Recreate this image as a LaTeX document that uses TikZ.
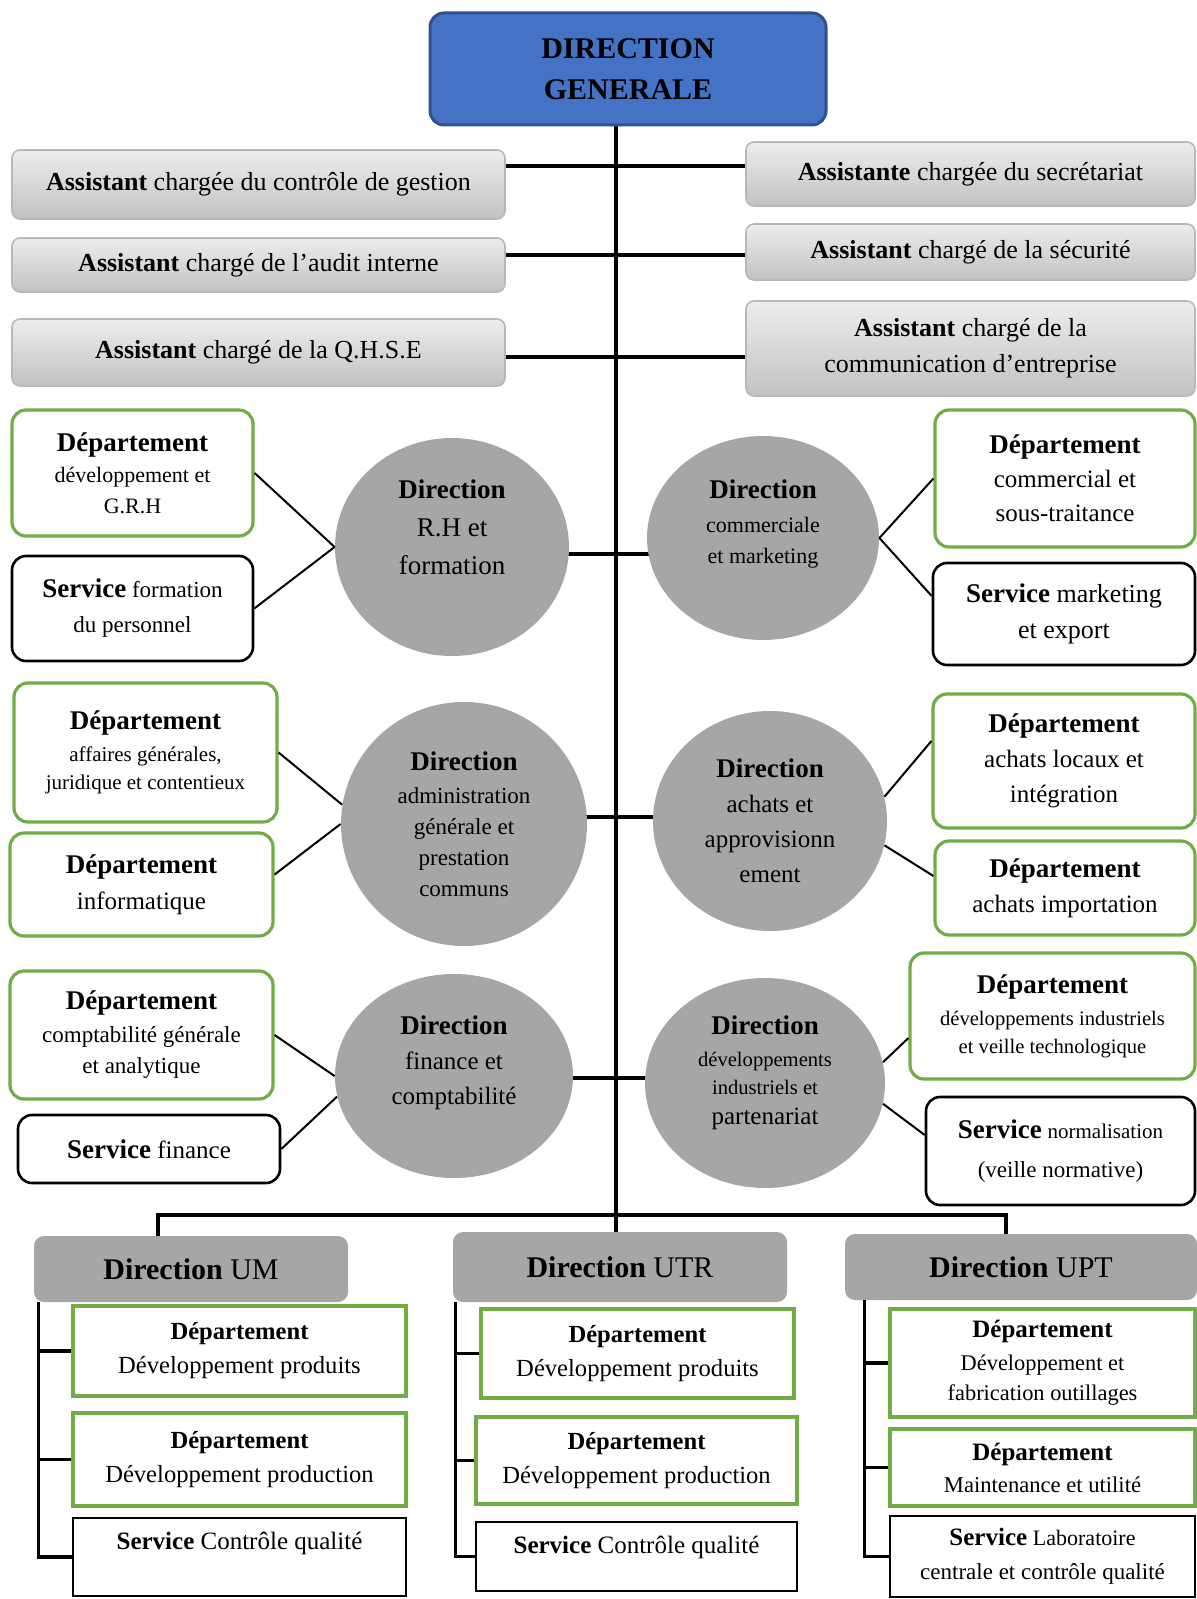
\documentclass[tikz,border=0pt]{standalone}
\usepackage{fontspec}
\setmainfont{Liberation Serif}
\usepackage{tikz}
\usetikzlibrary{shapes.geometric, backgrounds}
\definecolor{dgblue}{RGB}{68,114,196}
\definecolor{dgblueline}{RGB}{47,82,143}
\definecolor{deptgreen}{RGB}{112,173,71}
\definecolor{dirgray}{RGB}{166,166,166}
\newcommand\fs[2]{\fontsize{#1}{#2}\selectfont}
% box from its two corners (picture px): style, name, x1, y1, x2, y2, text
\newcommand\orgnode[7]{%
  \pgfmathsetmacro\bw{(#5-#3)/2}\pgfmathsetmacro\bh{(#6-#4)/2}%
  \node[#1, minimum width=\bw pt, minimum height=\bh pt] (#2) at ({(#3+#5)/2},{(#4+#6)/2}) {#7};}
% direction ellipse: style, name, cx, cy, rx, ry, text
\newcommand\dirnode[7]{%
  \node[dirc, #1, minimum width=#5pt, minimum height=#6pt] (#2) at (#3,#4) {#7};}
\tikzset{
  dgbox/.style={draw=dgblueline, fill=dgblue, rounded corners=7pt, line width=1.5pt, align=center, font={\fs{15}{20.5}\bfseries}},
  asst/.style={draw=black!28, top color=black!7, bottom color=black!24, rounded corners=4pt, line width=0.8pt, align=center, font={\fs{13}{18}}},
  dirc/.style={ellipse, fill=dirgray, align=center, inner sep=0pt},
  dept/.style={draw=deptgreen, line width=1.6pt, rounded corners=7pt, align=center, inner sep=1pt},
  serv/.style={draw=black, line width=1.3pt, rounded corners=7pt, align=center, inner sep=1pt},
  unit/.style={fill=dirgray, rounded corners=5pt, align=center, font={\fs{15}{18}}},
  udept/.style={draw=deptgreen, line width=1.6pt, align=center, inner sep=1pt},
  userv/.style={draw=black, line width=1.2pt, align=center, inner sep=1pt},
  trunk/.style={line width=2pt},
  col/.style={line width=1.6pt},
  link/.style={line width=1pt}
}
\newcommand\bigb[1]{{\fs{13.5}{17}\textbf{#1}}}
\begin{document}
\begin{tikzpicture}[x=0.5pt, y=-0.5pt]
  \useasboundingbox (0,0) rectangle (1197,1599);
  % ---- direction generale + assistants ----
  \orgnode{dgbox}{dg}{430}{13}{826}{125}{DIRECTION\\GENERALE}
  \orgnode{asst}{a1}{12}{150}{505}{219}{\textbf{Assistant} chargée du contrôle de gestion}
  \orgnode{asst}{a2}{12}{238}{505}{292}{\textbf{Assistant} chargé de l’audit interne}
  \orgnode{asst}{a3}{12}{319}{505}{386}{\textbf{Assistant} chargé de la Q.H.S.E}
  \orgnode{asst}{b1}{746}{142}{1195}{206}{\textbf{Assistante} chargée du secrétariat}
  \orgnode{asst}{b2}{746}{224}{1195}{280}{\textbf{Assistant} chargé de la sécurité}
  \orgnode{asst}{b3}{746}{301}{1195}{396}{\textbf{Assistant} chargé de la\\communication d’entreprise}
  % ---- row 1 ----
  \orgnode{dept, font=\fs{11}{15.5}}{grh}{12}{410}{253}{536}{\bigb{Département}\\développement et\\G.R.H}
  \orgnode{serv, font=\fs{11.5}{17.5}}{sfp}{12}{556}{253}{661}{\bigb{Service} formation\\du personnel}
  \dirnode{font=\fs{13.5}{19}}{drh}{452}{547}{117}{109}{\textbf{Direction}\\R.H et\\formation\\[1pt]\mbox{}}
  \dirnode{font=\fs{11}{15.5}}{dcm}{763}{538}{116}{102}{\bigb{Direction}\\[1.5pt]commerciale\\et marketing\\[0.5pt]\mbox{}}
  \orgnode{dept, font=\fs{12.5}{17}}{dcst}{935}{410}{1195}{547}{\bigb{Département}\\commercial et\\sous-traitance}
  \orgnode{serv, font=\fs{13}{18}}{smx}{933}{563}{1195}{665}{\bigb{Service} marketing\\et export}
  % ---- row 2 ----
  \orgnode{dept, font=\fs{10.5}{14}}{dag}{14}{683}{277}{822}{\bigb{Département}\\[2pt]affaires générales,\\juridique et contentieux}
  \orgnode{dept, font=\fs{12.5}{18}}{dinf}{10}{833}{273}{936}{\bigb{Département}\\informatique}
  \dirnode{font=\fs{11.5}{15.5}}{adm}{464}{824}{123}{122}{\bigb{Direction}\\[1pt]administration\\générale et\\prestation\\communs}
  \dirnode{font=\fs{12.5}{17.5}}{ach}{770}{821}{117}{110}{\bigb{Direction}\\achats et\\approvisionn\\ement}
  \orgnode{dept, font=\fs{12.5}{17.5}}{dal}{933}{694}{1195}{828}{\bigb{Département}\\achats locaux et\\intégration}
  \orgnode{dept, font=\fs{12.5}{17.5}}{dai}{935}{841}{1195}{935}{\bigb{Département}\\achats importation}
  % ---- row 3 ----
  \orgnode{dept, font=\fs{11.5}{15.5}}{dcg}{10}{971}{273}{1099}{\bigb{Département}\\[1pt]comptabilité générale\\et analytique}
  \orgnode{serv, font=\fs{12.5}{17}}{sfi}{18}{1115}{280}{1183}{\bigb{Service} finance}
  \dirnode{font=\fs{12.5}{17.5}}{fin}{454}{1076}{119}{102}{\bigb{Direction}\\finance et\\comptabilité\\[-1.5pt]\mbox{}}
  \dirnode{font=\fs{10.3}{14}}{dvp}{765}{1083}{120}{105}{\bigb{Direction}\\[2pt]développements\\industriels et\\[1pt]{\fs{12.5}{15}partenariat}\\[-1pt]\mbox{}}
  \orgnode{dept, font=\fs{10.3}{14}}{dvi}{910}{953}{1195}{1079}{\bigb{Département}\\[2pt]développements industriels\\et veille technologique}
  \orgnode{serv, font=\fs{11.5}{19.5}}{snr}{926}{1097}{1195}{1205}{\bigb{Service} {\fs{10.5}{19.5}normalisation}\\(veille normative)}
  % ---- units ----
  \orgnode{unit}{um}{34}{1236}{348}{1302}{\textbf{Direction} UM}
  \orgnode{unit}{utr}{453}{1232}{787}{1302}{\textbf{Direction} UTR}
  \orgnode{unit}{upt}{845}{1234}{1197}{1300}{\textbf{Direction} UPT}
  \orgnode{udept, font=\fs{12.3}{17}}{um1}{73}{1306}{406}{1396}{\textbf{Département}\\Développement produits}
  \orgnode{udept, font=\fs{12.3}{17}}{um2}{73}{1413}{406}{1506}{\textbf{Département}\\Développement production}
  \orgnode{userv, font=\fs{12.5}{16}}{um3}{73}{1518}{406}{1596}{\textbf{Service} Contrôle qualité\\\mbox{}}
  \orgnode{udept, font=\fs{12.3}{17}}{utr1}{481}{1309}{794}{1398}{\textbf{Département}\\Développement produits}
  \orgnode{udept, font=\fs{12.3}{17}}{utr2}{476}{1417}{797}{1504}{\textbf{Département}\\Développement production}
  \orgnode{userv, font=\fs{12.5}{16}}{utr3}{476}{1522}{797}{1591}{\textbf{Service} Contrôle qualité\\[-4pt]\mbox{}}
  \orgnode{udept, font=\fs{11.2}{15.3}}{upt1}{890}{1309}{1195}{1417}{{\fs{12.5}{16}\textbf{Département}}\\[1pt]Développement et\\fabrication outillages}
  \orgnode{udept, font=\fs{11.3}{16}}{upt2}{890}{1429}{1195}{1506}{{\fs{12.5}{16}\textbf{Département}}\\Maintenance et utilité}
  \orgnode{userv, font=\fs{11.5}{17}}{upt3}{890}{1516}{1195}{1597}{{\fs{12.5}{17}\textbf{Service}} {\fs{11}{17}Laboratoire}\\centrale et contrôle qualité}
  % ---- connectors ----
  \coordinate (h1) at (616,166); \coordinate (h2) at (616,255); \coordinate (h3) at (616,357);
  \coordinate (r1) at (616,554); \coordinate (r2) at (616,817); \coordinate (r3) at (616,1078);
  \coordinate (barL) at (158,1215); \coordinate (barR) at (1006,1215);
  \begin{scope}[on background layer]
    \draw[trunk] (dg.south -| h1) -- (utr.north -| h1);
    \draw[trunk] (a1.east |- h1) -- (b1.west |- h1);
    \draw[trunk] (a2.east |- h2) -- (b2.west |- h2);
    \draw[trunk] (a3.east |- h3) -- (b3.west |- h3);
    \draw[trunk] (drh.center |- r1) -- (dcm.center |- r1);
    \draw[trunk] (adm.center |- r2) -- (ach.center |- r2);
    \draw[trunk] (fin.center |- r3) -- (dvp.center |- r3);
    \draw[trunk] (um.north -| barL) -- (barL) -- (barR) -- (upt.north -| barR);
  \end{scope}
  \draw[link] (grh.east) -- (drh.west);
  \draw[link] (sfp.east) -- (drh.west);
  \draw[link] (dcm.east) -- (dcst.west);
  \draw[link] (dcm.east) -- ([yshift=9pt]smx.west);
  \draw[link] (dag.east) -- (adm.171);
  \draw[link] ([yshift=5pt]dinf.east) -- (adm.west);
  \draw[link] (ach.12) -- ([yshift=10pt]dal.west);
  \draw[link] (ach.-12) -- ([yshift=6pt]dai.west);
  \draw[link] (dcg.east) -- (fin.west);
  \draw[link] (sfi.east) -- (fin.190);
  \draw[link] (dvp.10) -- ([yshift=-11pt]dvi.west);
  \draw[link] (dvp.-10) -- ([yshift=8pt]snr.west);
  % unit columns
  \foreach \u/\dx in {um/2.5pt, utr/1.5pt, upt/10pt}{
    \coordinate (x\u) at ([xshift=\dx]\u.south west);
    \draw[col] (x\u) |- (\u3.west);
    \foreach \k in {1,2}
      \draw[col] (\u\k.west) -- (\u\k.west -| x\u);
  }
\end{tikzpicture}
\end{document}
